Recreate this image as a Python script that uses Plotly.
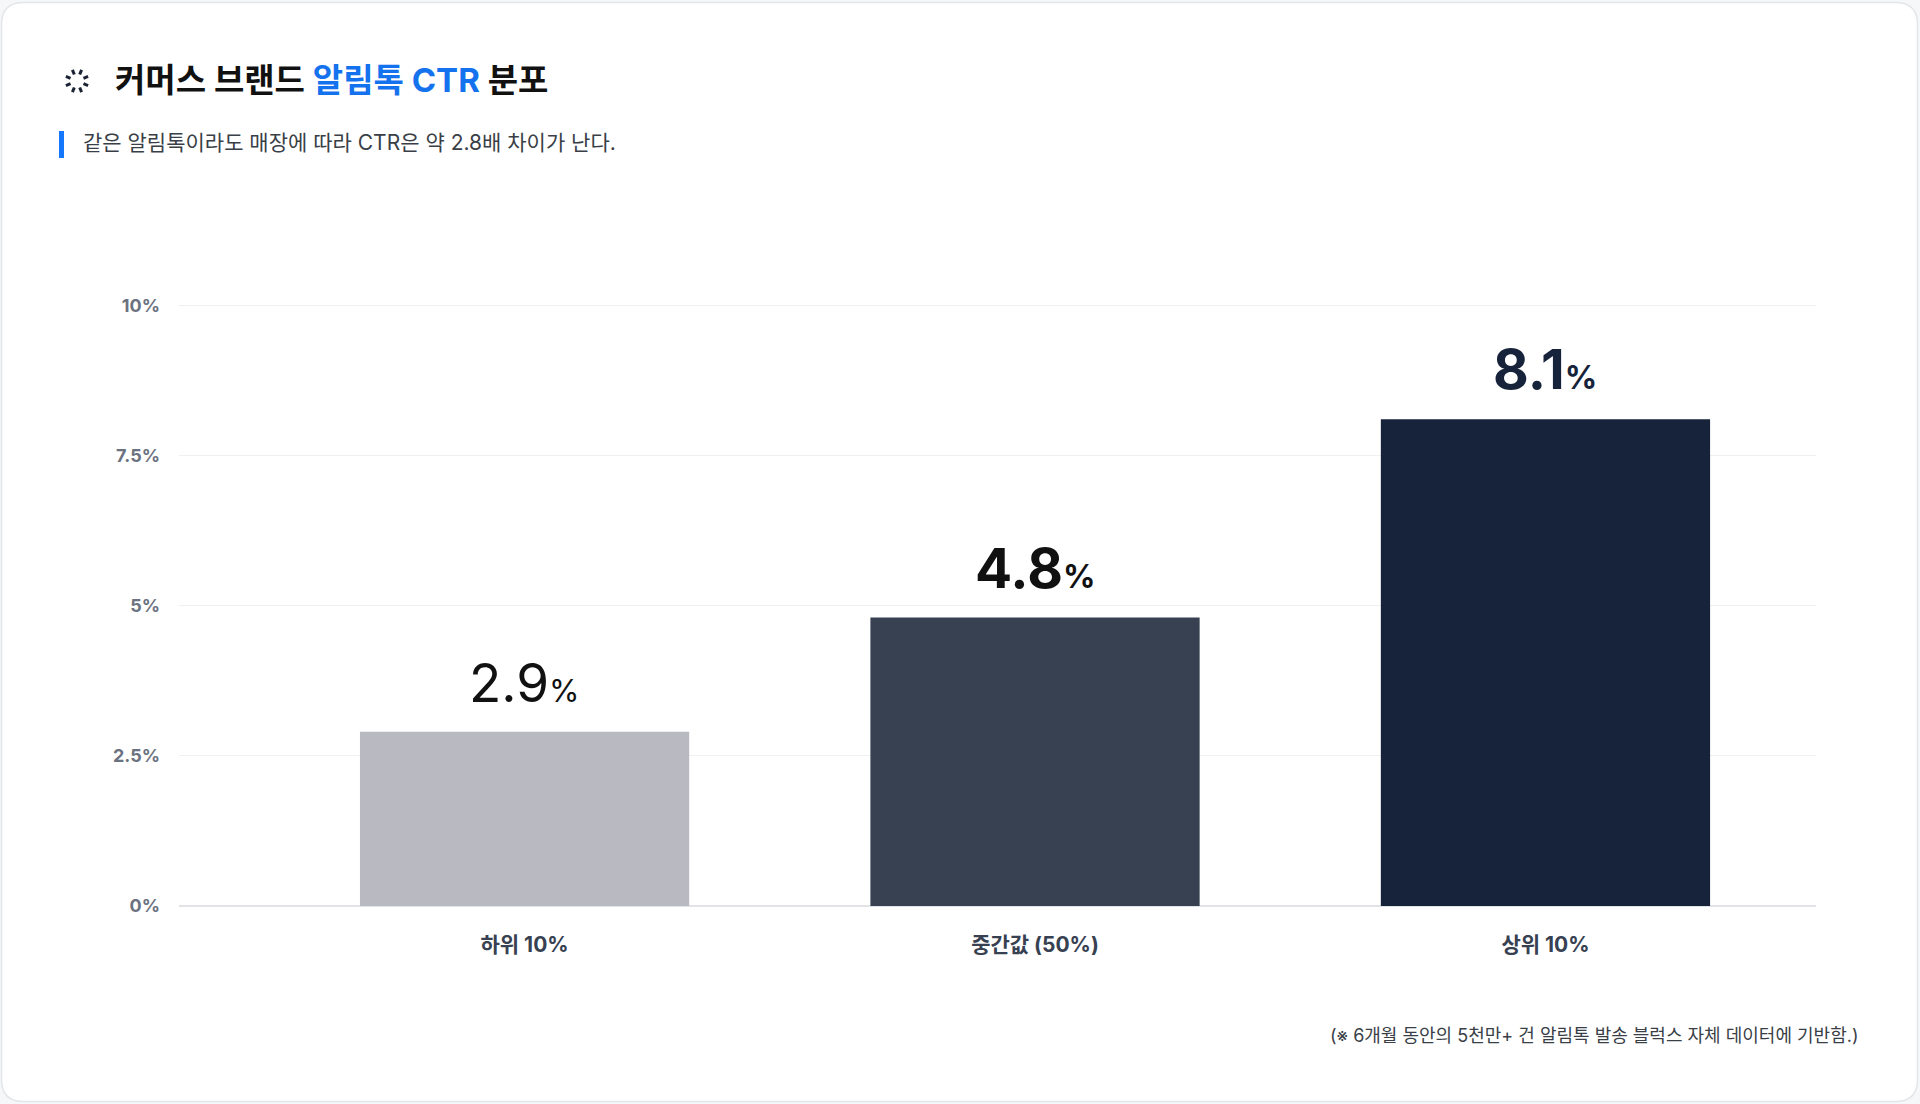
import math
import plotly.graph_objects as go

# data
categories = ["하위 10%", "중간값 (50%)", "상위 10%"]
ctr_values = [2.9, 4.8, 8.1]
bar_colors = ["#b8b9c1", "#374151", "#16233a"]
label_colors = ["#111111", "#111111", "#16233a"]
label_bold = [False, True, True]
y_ticks = [0, 2.5, 5, 7.5, 10]
y_tick_labels = ["0%", "2.5%", "5%", "7.5%", "10%"]

title_text = "커머스 브랜드 <span style='color:#1472ee'>알림톡 CTR</span> 분포"
subtitle_text = "같은 알림톡이라도 매장에 따라 CTR은 약 2.8배 차이가 난다."
note_text = "(※ 6개월 동안의 5천만+ 건 알림톡 발송 블럭스 자체 데이터에 기반함.)"

FONT = "Inter, 'Noto Sans CJK KR', sans-serif"

# page geometry (pixels)
W, H = 1920, 1104
ML, MR, MT, MB = 179, 104, 304, 198
PW, PH = W - ML - MR, H - MT - MB
Y_MAX = 10.02


def px_x(px):
    return (px - ML) / PW


def px_y(py):
    return (H - MB - py) / PH


def rounded_rect(x0, y0, x1, y1, r):
    pts = [
        ("M", [(x0 + r, y0)]), ("L", [(x1 - r, y0)]), ("Q", [(x1, y0), (x1, y0 + r)]),
        ("L", [(x1, y1 - r)]), ("Q", [(x1, y1), (x1 - r, y1)]),
        ("L", [(x0 + r, y1)]), ("Q", [(x0, y1), (x0, y1 - r)]),
        ("L", [(x0, y0 + r)]), ("Q", [(x0, y0), (x0 + r, y0)]),
    ]
    out = ""
    for cmd, coords in pts:
        out += cmd + " " + " ".join(f"{px_x(a):.5f},{px_y(b):.5f}" for a, b in coords) + " "
    return out + "Z"


fig = go.Figure()
fig.add_trace(go.Bar(
    x=categories,
    y=ctr_values,
    marker=dict(color=bar_colors, line=dict(width=0)),
    hoverinfo="skip",
))

# value labels above bars
for cat, v, col, bold in zip(categories, ctr_values, label_colors, label_bold):
    if bold:
        txt = f"<b>{v}</b><b><span style='font-size:32px'>%</span></b>"
        size = 55
    else:
        txt = f"{v}<span style='font-size:31px'>%</span>"
        size = 53
    fig.add_annotation(
        x=cat, y=v, xref="x", yref="y",
        text=txt, showarrow=False,
        yanchor="bottom", yshift=15,
        font=dict(family=FONT, size=size, color=col),
    )

shapes = []
# card
shapes.append(dict(
    type="path", xref="paper", yref="paper", layer="below",
    path=rounded_rect(1.5, 2.5, 1917.5, 1101.5, 22),
    fillcolor="#ffffff", line=dict(color="#e3e5e9", width=1.5),
))
# subtitle accent bar
shapes.append(dict(
    type="rect", xref="paper", yref="paper",
    x0=px_x(59), x1=px_x(64), y0=px_y(158), y1=px_y(131),
    fillcolor="#1677ff", line=dict(width=0),
))
# spinner icon: 8 short dashes
cx, cy = 77, 81
for i in range(8):
    a = math.radians(22.5 + i * 45)
    shapes.append(dict(
        type="line", xref="paper", yref="paper",
        x0=px_x(cx + 7 * math.cos(a)), y0=px_y(cy + 7 * math.sin(a)),
        x1=px_x(cx + 12 * math.cos(a)), y1=px_y(cy + 12 * math.sin(a)),
        line=dict(color="#1a2233", width=3),
    ))

fig.add_annotation(
    xref="paper", yref="paper", x=px_x(113), y=px_y(80),
    xanchor="left", yanchor="middle", showarrow=False,
    text="<b>" + title_text + "</b>",
    font=dict(family=FONT, size=33, color="#111111"),
)
fig.add_annotation(
    xref="paper", yref="paper", x=px_x(81), y=px_y(143),
    xanchor="left", yanchor="middle", showarrow=False,
    text=subtitle_text,
    font=dict(family=FONT, size=21, color="#3a3f47"),
)
fig.add_annotation(
    xref="paper", yref="paper", x=px_x(1860), y=px_y(1035),
    xanchor="right", yanchor="middle", showarrow=False,
    text=note_text,
    font=dict(family=FONT, size=18, color="#3a3f47"),
)

fig.update_layout(
    width=W, height=H,
    margin=dict(l=ML, r=MR, t=MT, b=MB, pad=0),
    paper_bgcolor="#f6f7f9",
    plot_bgcolor="rgba(0,0,0,0)",
    shapes=shapes,
    showlegend=False,
    bargap=0.355,
    font=dict(family=FONT),
    xaxis=dict(
        range=[-0.677, 2.53],
        showgrid=False, zeroline=False, showline=False,
        ticks="", ticklabelstandoff=24,
        tickfont=dict(family=FONT, size=21, color="#374151", weight=700),
        fixedrange=True,
    ),
    yaxis=dict(
        range=[0, Y_MAX],
        tickvals=y_ticks, ticktext=y_tick_labels,
        showgrid=True, gridcolor="#eff0f2", gridwidth=1,
        zeroline=True, zerolinecolor="#e1e3e7", zerolinewidth=1.5,
        showline=False, ticks="", ticklabelstandoff=18,
        tickfont=dict(family=FONT, size=18, color="#6b7280", weight=700),
        fixedrange=True,
    ),
)

fig.write_html("out.html", config={"displayModeBar": False},
               post_script="document.body.style.margin='0';document.body.style.overflow='hidden';")
